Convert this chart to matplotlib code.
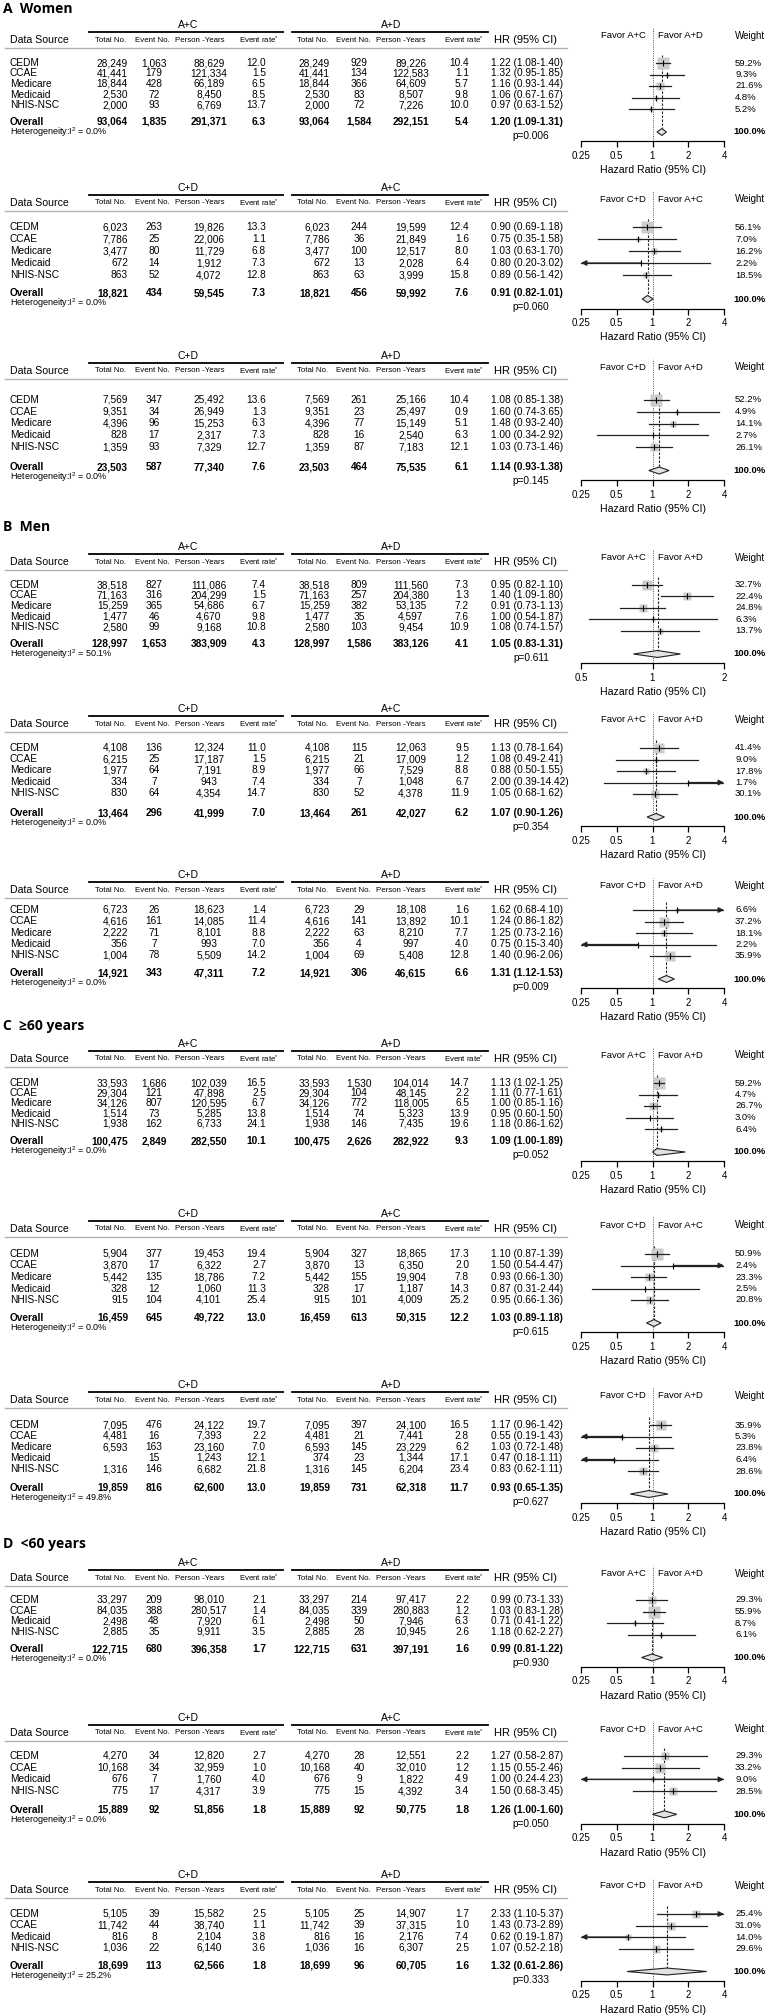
import matplotlib
matplotlib.use("Agg")
import matplotlib.pyplot as plt
from matplotlib import font_manager
from matplotlib.lines import Line2D
from matplotlib.ticker import NullLocator
from matplotlib.transforms import blended_transform_factory
import numpy as np

# ---------------------------------------------------------------------
# Data (one row per data source, last entry of each block = Overall)
# ---------------------------------------------------------------------

sections = ["A  Women", "B  Men", "C  \u226560 years", "D  <60 years"]

sources_5 = ["CEDM", "CCAE", "Medicare", "Medicaid", "NHIS-NSC"]
sources_4 = ["CEDM", "CCAE", "Medicaid", "NHIS-NSC"]
sources = [sources_5] * 9 + [sources_4] * 3

group_left = ["A+C", "C+D", "C+D"] * 4
group_right = ["A+D", "A+C", "A+D"] * 4
favor_left = ["A+C", "C+D", "C+D", "A+C", "A+C", "C+D", "A+C", "C+D", "C+D", "A+C", "C+D", "C+D"]
favor_right = ["A+D", "A+C", "A+D", "A+D", "A+D", "A+D", "A+D", "A+C", "A+D", "A+D", "A+C", "A+D"]

left_total = [
    [28249, 41441, 18844, 2530, 2000, 93064],
    [6023, 7786, 3477, 672, 863, 18821],
    [7569, 9351, 4396, 828, 1359, 23503],
    [38518, 71163, 15259, 1477, 2580, 128997],
    [4108, 6215, 1977, 334, 830, 13464],
    [6723, 4616, 2222, 356, 1004, 14921],
    [33593, 29304, 34126, 1514, 1938, 100475],
    [5904, 3870, 5442, 328, 915, 16459],
    [7095, 4481, 6593, None, 1316, 19859],
    [33297, 84035, 2498, 2885, 122715],
    [4270, 10168, 676, 775, 15889],
    [5105, 11742, 816, 1036, 18699],
]
left_events = [
    [1063, 179, 428, 72, 93, 1835],
    [263, 25, 80, 14, 52, 434],
    [347, 34, 96, 17, 93, 587],
    [827, 316, 365, 46, 99, 1653],
    [136, 25, 64, 7, 64, 296],
    [26, 161, 71, 7, 78, 343],
    [1686, 121, 807, 73, 162, 2849],
    [377, 17, 135, 12, 104, 645],
    [476, 16, 163, 15, 146, 816],
    [209, 388, 48, 35, 680],
    [34, 34, 7, 17, 92],
    [39, 44, 8, 22, 113],
]
left_py = [
    [88629, 121334, 66189, 8450, 6769, 291371],
    [19826, 22006, 11729, 1912, 4072, 59545],
    [25492, 26949, 15253, 2317, 7329, 77340],
    [111086, 204299, 54686, 4670, 9168, 383909],
    [12324, 17187, 7191, 943, 4354, 41999],
    [18623, 14085, 8101, 993, 5509, 47311],
    [102039, 47898, 120595, 5285, 6733, 282550],
    [19453, 6322, 18786, 1060, 4101, 49722],
    [24122, 7393, 23160, 1243, 6682, 62600],
    [98010, 280517, 7920, 9911, 396358],
    [12820, 32959, 1760, 4317, 51856],
    [15582, 38740, 2104, 6140, 62566],
]
left_rate = [
    [12.0, 1.5, 6.5, 8.5, 13.7, 6.3],
    [13.3, 1.1, 6.8, 7.3, 12.8, 7.3],
    [13.6, 1.3, 6.3, 7.3, 12.7, 7.6],
    [7.4, 1.5, 6.7, 9.8, 10.8, 4.3],
    [11.0, 1.5, 8.9, 7.4, 14.7, 7.0],
    [1.4, 11.4, 8.8, 7.0, 14.2, 7.2],
    [16.5, 2.5, 6.7, 13.8, 24.1, 10.1],
    [19.4, 2.7, 7.2, 11.3, 25.4, 13.0],
    [19.7, 2.2, 7.0, 12.1, 21.8, 13.0],
    [2.1, 1.4, 6.1, 3.5, 1.7],
    [2.7, 1.0, 4.0, 3.9, 1.8],
    [2.5, 1.1, 3.8, 3.6, 1.8],
]
right_total = [
    [28249, 41441, 18844, 2530, 2000, 93064],
    [6023, 7786, 3477, 672, 863, 18821],
    [7569, 9351, 4396, 828, 1359, 23503],
    [38518, 71163, 15259, 1477, 2580, 128997],
    [4108, 6215, 1977, 334, 830, 13464],
    [6723, 4616, 2222, 356, 1004, 14921],
    [33593, 29304, 34126, 1514, 1938, 100475],
    [5904, 3870, 5442, 328, 915, 16459],
    [7095, 4481, 6593, 374, 1316, 19859],
    [33297, 84035, 2498, 2885, 122715],
    [4270, 10168, 676, 775, 15889],
    [5105, 11742, 816, 1036, 18699],
]
right_events = [
    [929, 134, 366, 83, 72, 1584],
    [244, 36, 100, 13, 63, 456],
    [261, 23, 77, 16, 87, 464],
    [809, 257, 382, 35, 103, 1586],
    [115, 21, 66, 7, 52, 261],
    [29, 141, 63, 4, 69, 306],
    [1530, 104, 772, 74, 146, 2626],
    [327, 13, 155, 17, 101, 613],
    [397, 21, 145, 23, 145, 731],
    [214, 339, 50, 28, 631],
    [28, 40, 9, 15, 92],
    [25, 39, 16, 16, 96],
]
right_py = [
    [89226, 122583, 64609, 8507, 7226, 292151],
    [19599, 21849, 12517, 2028, 3999, 59992],
    [25166, 25497, 15149, 2540, 7183, 75535],
    [111560, 204380, 53135, 4597, 9454, 383126],
    [12063, 17009, 7529, 1048, 4378, 42027],
    [18108, 13892, 8210, 997, 5408, 46615],
    [104014, 48145, 118005, 5323, 7435, 282922],
    [18865, 6350, 19904, 1187, 4009, 50315],
    [24100, 7441, 23229, 1344, 6204, 62318],
    [97417, 280883, 7946, 10945, 397191],
    [12551, 32010, 1822, 4392, 50775],
    [14907, 37315, 2176, 6307, 60705],
]
right_rate = [
    [10.4, 1.1, 5.7, 9.8, 10.0, 5.4],
    [12.4, 1.6, 8.0, 6.4, 15.8, 7.6],
    [10.4, 0.9, 5.1, 6.3, 12.1, 6.1],
    [7.3, 1.3, 7.2, 7.6, 10.9, 4.1],
    [9.5, 1.2, 8.8, 6.7, 11.9, 6.2],
    [1.6, 10.1, 7.7, 4.0, 12.8, 6.6],
    [14.7, 2.2, 6.5, 13.9, 19.6, 9.3],
    [17.3, 2.0, 7.8, 14.3, 25.2, 12.2],
    [16.5, 2.8, 6.2, 17.1, 23.4, 11.7],
    [2.2, 1.2, 6.3, 2.6, 1.6],
    [2.2, 1.2, 4.9, 3.4, 1.8],
    [1.7, 1.0, 7.4, 2.5, 1.6],
]
hr = [
    [1.22, 1.32, 1.16, 1.06, 0.97, 1.20],
    [0.90, 0.75, 1.03, 0.80, 0.89, 0.91],
    [1.08, 1.60, 1.48, 1.00, 1.03, 1.14],
    [0.95, 1.40, 0.91, 1.00, 1.08, 1.05],
    [1.13, 1.08, 0.88, 2.00, 1.05, 1.07],
    [1.62, 1.24, 1.25, 0.75, 1.40, 1.31],
    [1.13, 1.11, 1.00, 0.95, 1.18, 1.09],
    [1.10, 1.50, 0.93, 0.87, 0.95, 1.03],
    [1.17, 0.55, 1.03, 0.47, 0.83, 0.93],
    [0.99, 1.03, 0.71, 1.18, 0.99],
    [1.27, 1.15, 1.00, 1.50, 1.26],
    [2.33, 1.43, 0.62, 1.07, 1.32],
]
hr_lo = [
    [1.08, 0.95, 0.93, 0.67, 0.63, 1.09],
    [0.69, 0.35, 0.63, 0.20, 0.56, 0.82],
    [0.85, 0.74, 0.93, 0.34, 0.73, 0.93],
    [0.82, 1.09, 0.73, 0.54, 0.74, 0.83],
    [0.78, 0.49, 0.50, 0.39, 0.68, 0.90],
    [0.68, 0.86, 0.73, 0.15, 0.96, 1.12],
    [1.02, 0.77, 0.85, 0.60, 0.86, 1.00],
    [0.87, 0.54, 0.66, 0.31, 0.66, 0.89],
    [0.96, 0.19, 0.72, 0.18, 0.62, 0.65],
    [0.73, 0.83, 0.41, 0.62, 0.81],
    [0.58, 0.55, 0.24, 0.68, 1.00],
    [1.10, 0.73, 0.19, 0.52, 0.61],
]
hr_hi = [
    [1.40, 1.85, 1.44, 1.67, 1.52, 1.31],
    [1.18, 1.58, 1.70, 3.02, 1.42, 1.01],
    [1.38, 3.65, 2.40, 2.92, 1.46, 1.38],
    [1.10, 1.80, 1.13, 1.87, 1.57, 1.31],
    [1.64, 2.41, 1.55, 14.42, 1.62, 1.26],
    [4.10, 1.82, 2.16, 3.40, 2.06, 1.53],
    [1.25, 1.61, 1.16, 1.50, 1.62, 1.89],
    [1.39, 4.47, 1.30, 2.44, 1.36, 1.18],
    [1.42, 1.43, 1.48, 1.11, 1.11, 1.35],
    [1.33, 1.28, 1.22, 2.27, 1.22],
    [2.87, 2.46, 4.23, 3.45, 1.60],
    [5.37, 2.89, 1.87, 2.18, 2.86],
]
weight = [
    [59.2, 9.3, 21.6, 4.8, 5.2],
    [56.1, 7.0, 16.2, 2.2, 18.5],
    [52.2, 4.9, 14.1, 2.7, 26.1],
    [32.7, 22.4, 24.8, 6.3, 13.7],
    [41.4, 9.0, 17.8, 1.7, 30.1],
    [6.6, 37.2, 18.1, 2.2, 35.9],
    [59.2, 4.7, 26.7, 3.0, 6.4],
    [50.9, 2.4, 23.3, 2.5, 20.8],
    [35.9, 5.3, 23.8, 6.4, 28.6],
    [29.3, 55.9, 8.7, 6.1],
    [29.3, 33.2, 9.0, 28.5],
    [25.4, 31.0, 14.0, 29.6],
]
p_value = [0.006, 0.060, 0.145, 0.611, 0.354, 0.009, 0.052, 0.615, 0.627, 0.930, 0.050, 0.333]
i2 = [0.0, 0.0, 0.0, 50.1, 0.0, 0.0, 0.0, 0.0, 49.8, 0.0, 0.0, 25.2]

hr_ticks_wide = [0.25, 0.5, 1, 2, 4]
hr_ticks_narrow = [0.5, 1, 2]

# ---------------------------------------------------------------------
# Layout (pixels of the 766 x 2016 output)
# ---------------------------------------------------------------------

W, H = 766, 2016
section_y = [9, 527, 1026, 1544]
block_top = [32, 195, 363, 554, 716, 882, 1051, 1221, 1392, 1570, 1725, 1882]
row_first = [31, 32, 37, 31, 32, 28, 32, 33, 33, 30, 31, 32]     # offsets from block top
row_last = [73, 80, 84, 73, 77, 73, 73, 79, 77, 62, 66, 66]
row_overall = [90, 98, 104, 90, 97, 91, 90, 97, 96, 79, 85, 84]
FX0, FX1 = 581, 724      # forest axis span
FS = 7.3                 # body font size

installed = {f.name for f in font_manager.fontManager.ttflist}
BODY = "Liberation Sans"
NARROW = "Liberation Sans Narrow" if "Liberation Sans Narrow" in installed else BODY
TITLE = "Open Sans" if "Open Sans" in installed else BODY

plt.rcParams["font.family"] = [BODY, "DejaVu Sans"]
plt.rcParams["mathtext.fontset"] = "custom"
plt.rcParams["mathtext.rm"] = BODY
plt.rcParams["mathtext.it"] = BODY

fig = plt.figure(figsize=(W / 100, H / 100), dpi=100)


def put(x, y, s, **kw):
    kw.setdefault("va", "center")
    fig.text(x / W, 1 - y / H, s, **kw)


def hline(x0, x1, y, **kw):
    fig.add_artist(Line2D([x0 / W, x1 / W], [1 - y / H, 1 - y / H],
                          transform=fig.transFigure, **kw))


def fmt_int(v):
    return "" if v is None else f"{v:,}"


for s, label in enumerate(sections):
    put(3, section_y[s], label, fontsize=10, fontweight="bold", family=TITLE)

for b in range(12):
    L = block_top[b]
    n = len(sources[b])
    y_first = L + row_first[b]
    s_row = (row_last[b] - row_first[b]) / (n - 1)
    y_over = L + row_overall[b]

    # ---- table header
    put(188, L - 7, group_left[b], ha="center", fontsize=7.5)
    put(391, L - 7, group_right[b], ha="center", fontsize=7.5)
    hline(89, 283, L, color="black", lw=1.3)
    hline(292, 488, L, color="black", lw=1.3)
    put(10, L + 8, "Data Source", fontsize=7.6)
    for xc, t in zip([111, 152, 200, 259, 313, 353, 401, 464],
                     ["Total No.", "Event No.", "Person -Years", "Event rate$^{*}$"] * 2):
        put(xc, L + 8, t, ha="center", fontsize=5.7, family=NARROW)
    put(525, L + 8, "HR (95% CI)", ha="center", fontsize=8)
    hline(5, 567, L + 16, color="#b0b0b0", lw=1.0)

    # ---- table rows
    names = sources[b] + ["Overall"]
    for i, name in enumerate(names):
        last = i == n
        y = y_over if last else y_first + s_row * i
        fw = "bold" if last else "normal"
        put(10, y, name, fontsize=FS, fontweight=fw)
        put(128, y, fmt_int(left_total[b][i]), ha="right", fontsize=FS, fontweight=fw)
        put(154, y, fmt_int(left_events[b][i]), ha="center", fontsize=FS, fontweight=fw)
        put(209, y, fmt_int(left_py[b][i]), ha="center", fontsize=FS, fontweight=fw)
        put(266, y, f"{left_rate[b][i]:.1f}", ha="right", fontsize=FS, fontweight=fw)
        put(330, y, fmt_int(right_total[b][i]), ha="right", fontsize=FS, fontweight=fw)
        put(359, y, fmt_int(right_events[b][i]), ha="center", fontsize=FS, fontweight=fw)
        put(411, y, fmt_int(right_py[b][i]), ha="center", fontsize=FS, fontweight=fw)
        put(469, y, f"{right_rate[b][i]:.1f}", ha="right", fontsize=FS, fontweight=fw)
        put(491, y, f"{hr[b][i]:.2f} ({hr_lo[b][i]:.2f}-{hr_hi[b][i]:.2f})",
            fontsize=FS, fontweight=fw)
    put(10, y_over + 10, f"Heterogeneity:I$^{{2}}$ = {i2[b]:.1f}%", fontsize=6.5)
    put(531, y_over + 14, f"p={p_value[b]:.3f}", ha="center", fontsize=7.3)

    # ---- forest plot: row index on y, diamond one blank row below the studies
    RS = max(s_row, 11.5)
    d = n + 1
    y_top = L - 4
    y_axis = y_first + (d + 0.8) * RS
    rows_top = (y_top - y_first) / RS

    ax = fig.add_axes([FX0 / W, 1 - y_axis / H, (FX1 - FX0) / W, (y_axis - y_top) / H])
    ax.patch.set_alpha(0)
    ax.set_xscale("log", base=2)
    ticks = hr_ticks_narrow if b == 3 else hr_ticks_wide
    xmin, xmax = ticks[0], ticks[-1]
    ax.set_xlim(xmin, xmax)
    ax.set_ylim(d + 0.8, rows_top)
    ax.set_xticks(ticks, labels=[f"{t:g}" for t in ticks])
    ax.xaxis.set_minor_locator(NullLocator())
    ax.set_yticks([])
    for side in ["top", "left", "right"]:
        ax.spines[side].set_visible(False)
    ax.spines["bottom"].set_linewidth(0.9)
    ax.tick_params(axis="x", direction="out", length=4, width=0.9, labelsize=7, pad=3)
    ax.set_xlabel("Hazard Ratio (95% CI)", fontsize=7.6, labelpad=3)

    ax.axvline(1, color="#555555", lw=0.7, ls=(0, (1, 1.3)), zorder=1)
    ov = hr[b][n]
    ax.plot([ov, ov], [-0.7, d - 0.3], color="#222222", lw=0.8,
            ls=(0, (2.2, 1.4)), zorder=1)

    for i in range(n):
        h, lo, hi = hr[b][i], hr_lo[b][i], hr_hi[b][i]
        ax.plot(h, i, marker="s", ms=8.8 * np.sqrt(weight[b][i] / 59.2),
                color="#cccccc", mec="none", zorder=2)
        ax.plot([max(lo, xmin), min(hi, xmax)], [i, i], color="#222222", lw=0.9, zorder=3)
        ax.plot(h, i, marker="|", ms=4, mew=0.8, color="black", zorder=4)
        for edge, beyond in [(xmin, lo < xmin), (xmax, hi > xmax)]:
            if beyond:
                ax.annotate("", xy=(edge, i), xytext=(h, i), annotation_clip=False,
                            arrowprops=dict(arrowstyle="-|>", color="#222222", lw=0.9,
                                            mutation_scale=8, shrinkA=0, shrinkB=0))

    ax.fill([hr_lo[b][n], ov, hr_hi[b][n], ov], [d, d - 0.3, d, d + 0.3],
            facecolor="#e2e2e2", edgecolor="#222222", lw=0.8, zorder=3, clip_on=False)

    # favor labels and weights
    fav_y = (L + 4 - y_first) / RS
    ax.annotate(f"Favor {favor_left[b]}", xy=(1, fav_y), xytext=(-5, 0),
                textcoords="offset points", ha="right", va="center", fontsize=6.8)
    ax.annotate(f"Favor {favor_right[b]}", xy=(1, fav_y), xytext=(4, 0),
                textcoords="offset points", ha="left", va="center", fontsize=6.8)
    tr = blended_transform_factory(ax.transAxes, ax.transData)
    wx = (735 - FX0) / (FX1 - FX0)
    ax.text(wx, fav_y, "Weight", transform=tr, ha="left", va="center", fontsize=7)
    for i in range(n):
        ax.text(wx, i, f"{weight[b][i]:.1f}%", transform=tr, ha="left", va="center",
                fontsize=6.8)
    ax.text((733 - FX0) / (FX1 - FX0), d, "100.0%", transform=tr, ha="left",
            va="center", fontsize=6.8, fontweight="bold")

fig.savefig("out.png", dpi=100, facecolor="white")
